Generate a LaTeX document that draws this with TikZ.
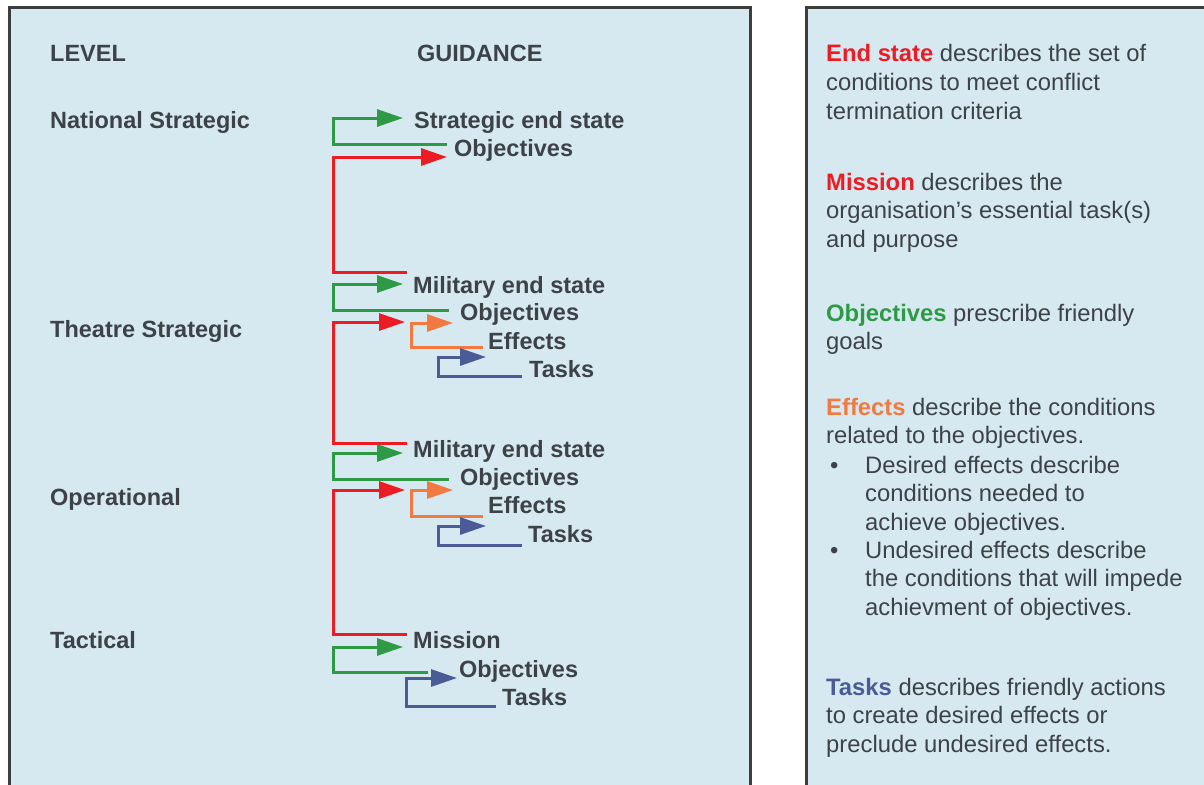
\documentclass[tikz,border=0pt]{standalone}
\usepackage{fontspec}
\setmainfont{Liberation Sans}
\usetikzlibrary{arrows.meta}
\definecolor{bgblue}{HTML}{D6E9F0}
\definecolor{framec}{HTML}{3B3E3B}
\definecolor{txt}{HTML}{3D4148}
\definecolor{cgreen}{HTML}{2E9A45}
\definecolor{cred}{HTML}{EC1C24}
\definecolor{corange}{HTML}{F27A40}
\definecolor{cblue}{HTML}{4B5B96}
\begin{document}
\begin{tikzpicture}[x=1pt,y=-1pt,
  panel/.style={draw=framec,line width=3pt,fill=bgblue},
  lvl/.style={anchor=base west,font=\fontsize{23.5}{28}\selectfont\bfseries,text=txt,inner sep=0pt},
  desc/.style={anchor=base west,font=\fontsize{23.8}{28.7}\selectfont,text=txt,inner sep=0pt,align=left},
  link/.style={line width=3pt,line join=miter,-{Triangle[length=26pt,width=17pt]}}]
\useasboundingbox (0,0) rectangle (1204,784);
\clip (0,0) rectangle (1204,784);
\fill[white] (0,0) rectangle (1204,784);
% panels
\draw[panel] (9,8) rectangle (750,800);
\draw[panel] (806,8) rectangle (1215,800);

% level column
\node[lvl] (hlevel) at (50,62) {LEVEL};
\node[lvl] (hguid) at (417,62) {GUIDANCE};
\node[lvl] (lnat) at (50,128) {National Strategic};
\node[lvl] (lthe) at (50,337) {Theatre Strategic};
\node[lvl] (lope) at (50,505) {Operational};
\node[lvl] (ltac) at (50,648) {Tactical};

% guidance labels
\node[lvl] (sesl) at (414,128) {Strategic end state};
\node[lvl] (obj1) at (454,156) {Objectives};
\node[lvl] (mes1) at (413,293) {Military end state};
\node[lvl] (obj2) at (460,320) {Objectives};
\node[lvl] (eff1) at (488,349) {Effects};
\node[lvl] (tsk1) at (529,377) {Tasks};
\node[lvl] (mes2) at (413,457) {Military end state};
\node[lvl] (obj3) at (460,485) {Objectives};
\node[lvl] (eff2) at (488,513) {Effects};
\node[lvl] (tsk2) at (528,542) {Tasks};
\node[lvl] (mis) at (413,648) {Mission};
\node[lvl] (obj4) at (459,677) {Objectives};
\node[lvl] (tsk3) at (502,705) {Tasks};

% connector coordinates
\coordinate (g1b) at (447,144); \coordinate (g1c) at (333,118); \coordinate (g1t) at (403,118);
\coordinate (r1b) at (407,272); \coordinate (r1c) at (333,157); \coordinate (r1t) at (447,157);
\coordinate (g2b) at (449,310); \coordinate (g2c) at (333,284); \coordinate (g2t) at (403,284);
\coordinate (r2b) at (407,443); \coordinate (r2c) at (333,322); \coordinate (r2t) at (405,322);
\coordinate (o1b) at (483,347); \coordinate (o1c) at (411,323); \coordinate (o1t) at (453,323);
\coordinate (b1b) at (522,376); \coordinate (b1c) at (438,357); \coordinate (b1t) at (486,357);
\coordinate (g3b) at (449,479); \coordinate (g3c) at (333,453); \coordinate (g3t) at (403,453);
\coordinate (r3b) at (407,634); \coordinate (r3c) at (333,490); \coordinate (r3t) at (405,490);
\coordinate (o2b) at (483,516); \coordinate (o2c) at (411,490); \coordinate (o2t) at (453,490);
\coordinate (b2b) at (522,545); \coordinate (b2c) at (438,526); \coordinate (b2t) at (486,526);
\coordinate (g4b) at (428,672); \coordinate (g4c) at (333,647); \coordinate (g4t) at (403,647);
\coordinate (b3b) at (496,706); \coordinate (b3c) at (406,678); \coordinate (b3t) at (457,678);

\draw[link,cgreen] (g1b) -| (g1c) -- (g1t);
\draw[link,cred] (r1b) -| (r1c) -- (r1t);
\draw[link,cgreen] (g2b) -| (g2c) -- (g2t);
\draw[link,cred] (r2b) -| (r2c) -- (r2t);
\draw[link,corange] (o1b) -| (o1c) -- (o1t);
\draw[link,cblue] (b1b) -| (b1c) -- (b1t);
\draw[link,cgreen] (g3b) -| (g3c) -- (g3t);
\draw[link,cred] (r3b) -| (r3c) -- (r3t);
\draw[link,corange] (o2b) -| (o2c) -- (o2t);
\draw[link,cblue] (b2b) -| (b2c) -- (b2t);
\draw[link,cgreen] (g4b) -| (g4c) -- (g4t);
\draw[link,cblue] (b3b) -| (b3c) -- (b3t);

% right panel text (anchored at the baseline of the last line)
\node[desc] (des) at (826,119.4) {\textcolor{cred}{\bfseries End state} describes the set of\\conditions to meet conflict\\termination criteria};
\node[desc] (dmi) at (826,247.4) {\textcolor{cred}{\bfseries Mission} describes the\\organisation’s essential task(s)\\and purpose};
\node[desc] (dob) at (826,349.7) {\textcolor{cgreen}{\bfseries Objectives} prescribe friendly\\goals};
\node[desc] (def) at (826,443.7) {\textcolor{corange}{\bfseries Effects} describe the conditions\\related to the objectives.};
\node[desc] (bul1) at (830,473) {•};
\node[desc] (dd1) at (865,530.4) {Desired effects describe\\conditions needed to\\achieve objectives.};
\node[desc] (bul2) at (830,558) {•};
\node[desc] (dd2) at (865,615.4) {Undesired effects describe\\the conditions that will impede\\achievment of objectives.};
\node[desc] (dta) at (826,752.4) {\textcolor{cblue}{\bfseries Tasks} describes friendly actions\\to create desired effects or\\preclude undesired effects.};
\end{tikzpicture}
\end{document}
